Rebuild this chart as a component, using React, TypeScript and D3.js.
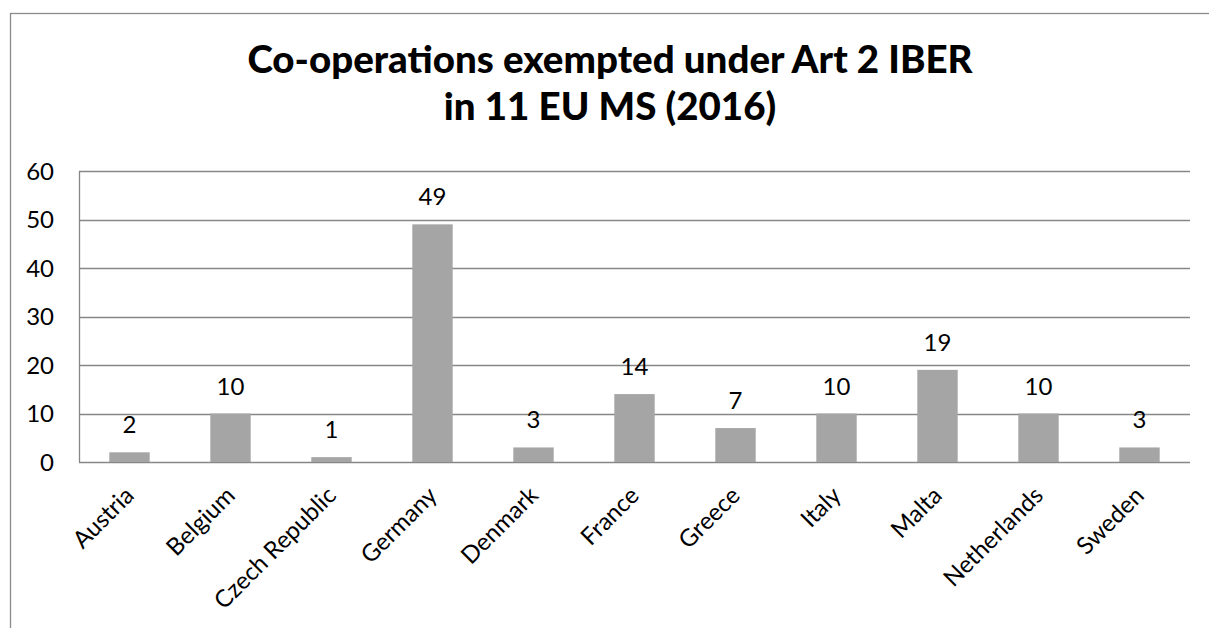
import React from 'react';
import * as d3 from 'd3';

const countries = [
  'Austria', 'Belgium', 'Czech Republic', 'Germany', 'Denmark', 'France',
  'Greece', 'Italy', 'Malta', 'Netherlands', 'Sweden',
];
const cooperations = [2, 10, 1, 49, 3, 14, 7, 10, 19, 10, 3];
const yTicks = [0, 10, 20, 30, 40, 50, 60];
const titleLines = ['Co-operations exempted under Art 2 IBER', 'in 11 EU MS (2016)'];

const W = 1209;
const H = 628;
const FONT = 'Lato, "Noto Sans", sans-serif';

export default function App() {
  const plot = { left: 79, right: 1190, top: 171, bottom: 462 };

  const x = d3.scaleBand<string>()
    .domain(countries)
    .range([plot.left, plot.right])
    .paddingInner(0.6)
    .paddingOuter(0.3);

  const y = d3.scaleLinear().domain([0, 60]).range([plot.bottom, plot.top]);

  const center = (c: string) => (x(c) ?? 0) + x.bandwidth() / 2;

  return (
    <svg
      width={W}
      height={H}
      style={{ position: 'absolute', left: 0, top: 0, display: 'block', background: '#fff' }}
      fontFamily={FONT}
    >
      {/* chart frame, runs past the right and bottom edge */}
      <rect x={10.5} y={13.5} width={1300} height={700} fill="none" stroke="#8c8c8c" strokeWidth={1.3} />

      {titleLines.map((t, i) => (
        <text
          key={t}
          x={610}
          y={73 + i * 47}
          textAnchor="middle"
          fontWeight="900"
          fontSize={38.5}
          fill="#000"
        >
          {t}
        </text>
      ))}

      {/* gridlines */}
      {yTicks.map(t => (
        <line
          key={t}
          x1={plot.left}
          x2={plot.right}
          y1={Math.round(y(t)) + 0.5}
          y2={Math.round(y(t)) + 0.5}
          stroke="#878787"
          strokeWidth={1.3}
        />
      ))}
      <line x1={plot.left + 0.5} x2={plot.left + 0.5} y1={plot.top} y2={plot.bottom} stroke="#878787" strokeWidth={1.3} />

      {yTicks.map(t => (
        <text key={t} x={54} y={y(t)} dy="0.36em" textAnchor="end" fontSize={24} fill="#000">
          {t}
        </text>
      ))}

      {countries.map((c, i) => (
        <g key={c}>
          <rect
            x={x(c)}
            y={y(cooperations[i])}
            width={x.bandwidth()}
            height={y(0) - y(cooperations[i])}
            fill="#a5a5a5"
          />
          <text
            x={center(c)}
            y={y(cooperations[i]) - 19}
            textAnchor="middle"
            fontSize={24}
            fill="#000"
          >
            {cooperations[i]}
          </text>
          <text
            transform={`translate(${center(c) + 6},${497}) rotate(-45)`}
            textAnchor="end"
            fontSize={24}
            fill="#000"
          >
            {c}
          </text>
        </g>
      ))}
    </svg>
  );
}
